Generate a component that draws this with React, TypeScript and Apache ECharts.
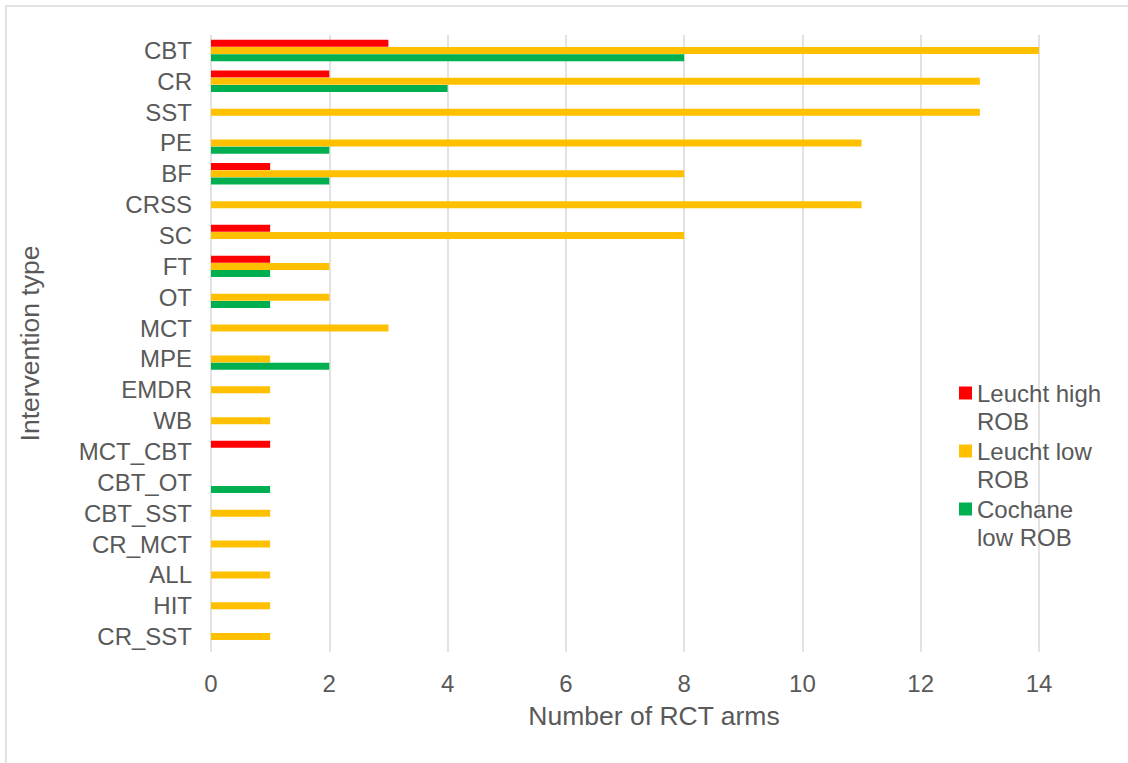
import React, { useEffect, useRef } from "react";
import * as echarts from "echarts";

// Intervention types, listed top to bottom
const categories = [
  "CBT", "CR", "SST", "PE", "BF", "CRSS", "SC", "FT", "OT", "MCT",
  "MPE", "EMDR", "WB", "MCT_CBT", "CBT_OT", "CBT_SST", "CR_MCT", "ALL", "HIT", "CR_SST",
];

// Number of RCT arms per intervention type
const leuchtHighRob = [3, 2, 0, 0, 1, 0, 1, 1, 0, 0, 0, 0, 0, 1, 0, 0, 0, 0, 0, 0];
const leuchtLowRob = [14, 13, 13, 11, 8, 11, 8, 2, 2, 3, 1, 1, 1, 0, 0, 1, 1, 1, 1, 1];
const cochraneLowRob = [8, 4, 0, 2, 2, 0, 0, 1, 1, 0, 2, 0, 0, 0, 1, 0, 0, 0, 0, 0];

const seriesNames = ["Leucht high ROB", "Leucht low ROB", "Cochane low ROB"];
// Legend labels wrap over two lines; the leading empty line keeps the
// swatch level with the first line of each label.
const legendLabels: Record<string, string> = {
  "Leucht high ROB": "\nLeucht high\nROB",
  "Leucht low ROB": "\nLeucht low\nROB",
  "Cochane low ROB": "\nCochane\nlow ROB",
};
const xTicks = [0, 2, 4, 6, 8, 10, 12, 14];

const FONT = "'Liberation Sans', Arial, sans-serif";
const TEXT = "#595959";
const GRID = "#d9d9d9";

export default function App() {
  const ref = useRef<HTMLDivElement>(null);

  useEffect(() => {
    if (!ref.current) return;
    const chart = echarts.init(ref.current, undefined, { renderer: "svg" });
    const bar = (name: string, data: number[], color: string) => ({
      name,
      type: "bar",
      data,
      barWidth: 7,
      barGap: "3%",
      itemStyle: { color },
    });
    chart.setOption({
      animation: false,
      backgroundColor: "#ffffff",
      textStyle: { fontFamily: FONT, color: TEXT },
      grid: { left: 211, right: 89, top: 35, bottom: 111, containLabel: false },
      xAxis: {
        type: "value",
        min: xTicks[0],
        max: xTicks[xTicks.length - 1],
        interval: 2,
        name: "Number of RCT arms",
        nameLocation: "middle",
        nameGap: 50,
        nameTextStyle: {
          fontSize: 26.5,
          color: TEXT,
          fontFamily: FONT,
          padding: [0, 0, 0, 58],
        },
        axisLine: { show: false },
        axisTick: { show: false },
        axisLabel: { fontSize: 24, color: TEXT, fontFamily: FONT, margin: 19 },
        splitLine: { show: true, lineStyle: { color: GRID, width: 1.5 } },
      },
      yAxis: {
        type: "category",
        data: categories,
        inverse: true,
        name: "Intervention type",
        nameLocation: "middle",
        nameGap: 168,
        nameTextStyle: { fontSize: 26.5, color: TEXT, fontFamily: FONT },
        axisLine: { show: false },
        axisTick: { show: false },
        axisLabel: {
          interval: 0,
          fontSize: 24,
          color: TEXT,
          fontFamily: FONT,
          margin: 19,
        },
        splitLine: { show: false },
      },
      legend: {
        orient: "vertical",
        left: 959,
        top: 351,
        padding: 0,
        itemGap: -26,
        itemWidth: 13,
        itemHeight: 13,
        icon: "rect",
        data: seriesNames,
        formatter: (n: string) => legendLabels[n] ?? n,
        textStyle: {
          fontSize: 24,
          lineHeight: 28,
          color: TEXT,
          fontFamily: FONT,
        },
        itemStyle: { borderWidth: 0 },
      },
      graphic: [
        {
          type: "rect",
          shape: { x: 6, y: 6, width: 1200, height: 800 },
          style: { fill: "none", stroke: GRID, lineWidth: 1.5 },
          silent: true,
          z: -1,
        },
      ],
      series: [
        bar(seriesNames[0], leuchtHighRob, "#ff0000"),
        bar(seriesNames[1], leuchtLowRob, "#ffc000"),
        bar(seriesNames[2], cochraneLowRob, "#00b050"),
      ],
    });
    return () => chart.dispose();
  }, []);

  return (
    <div
      ref={ref}
      style={{ position: "fixed", left: 0, top: 0, width: 1128, height: 763 }}
    />
  );
}
